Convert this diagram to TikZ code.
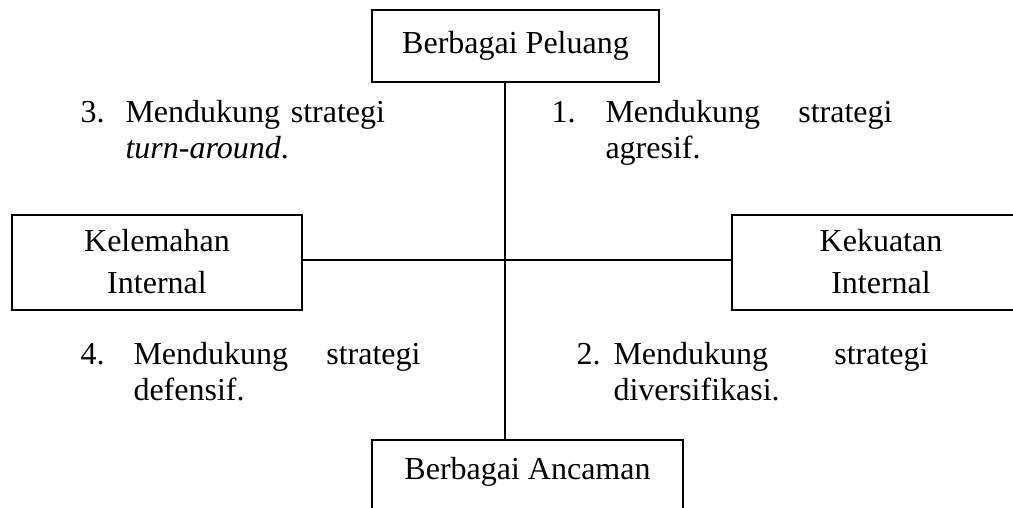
\documentclass[tikz,border=0pt]{standalone}
\usepackage{fontspec}
\setmainfont{Liberation Serif}
\usepackage{tikz}
\newcommand{\swfont}{\fontsize{12.8}{16.8}\selectfont}
\newcommand{\swquad}{\fontsize{12.8}{14.6}\selectfont}
\tikzset{
  swbox/.style={draw=black, line width=.8pt, align=center, inner sep=0pt, font=\swfont},
  swnum/.style={anchor=base west, inner sep=0pt, font=\swquad},
  swtext/.style={anchor=base west, inner sep=0pt, align=left, font=\swquad},
  swline/.style={draw=black, line width=.8pt}
}

\begin{document}
\begin{tikzpicture}[x=.4pt, y=-.4pt]
  \useasboundingbox (0,0) rectangle (1013,507);
  \clip (0,0) rectangle (1013,507);
  \fill[white] (0,0) rectangle (1013,507);
  % four boxes
  \node[swbox, minimum width=114.8pt, minimum height=28.8pt] (peluang) at (515.5,46) {Berbagai Peluang};
  \node[swbox, minimum width=116pt, minimum height=38pt] (kelemahan) at (157,262) {Kelemahan\\Internal};
  \node[swbox, minimum width=119.2pt, minimum height=38pt] (kekuatan) at (881,262) {Kekuatan\\Internal};
  \node[swbox, anchor=north, minimum width=124.4pt, minimum height=36pt, text height=8.8pt, text depth=13.6pt] (ancaman) at (527.5,439) {Berbagai Ancaman};
  % cross
  \coordinate (pusat) at (505,260);
  \draw[swline] (peluang.south -| pusat) -- (ancaman.north -| pusat);
  \draw[swline] (kelemahan.east |- pusat) -- (kekuatan.west |- pusat);
  % quadrants
  \node[swnum] (n3) at (80,122) {3.};
  \node[swtext, text width=108pt] (t3) at (125,122) {Mendukung strategi\\\textit{turn-around}.};
  \node[swnum] (n1) at (551,122) {1.};
  \node[swtext, text width=114.8pt] (t1) at (605,122) {Mendukung\hfill strategi\\agresif.};
  \node[swnum] (n4) at (80,364) {4.};
  \node[swtext, text width=114.8pt] (t4) at (133,364) {Mendukung\hfill strategi\\defensif.};
  \node[swnum] (n2) at (576,364) {2.};
  \node[swtext, text width=126pt] (t2) at (613,364) {Mendukung\hfill strategi\\diversifikasi.};
\end{tikzpicture}
\end{document}
